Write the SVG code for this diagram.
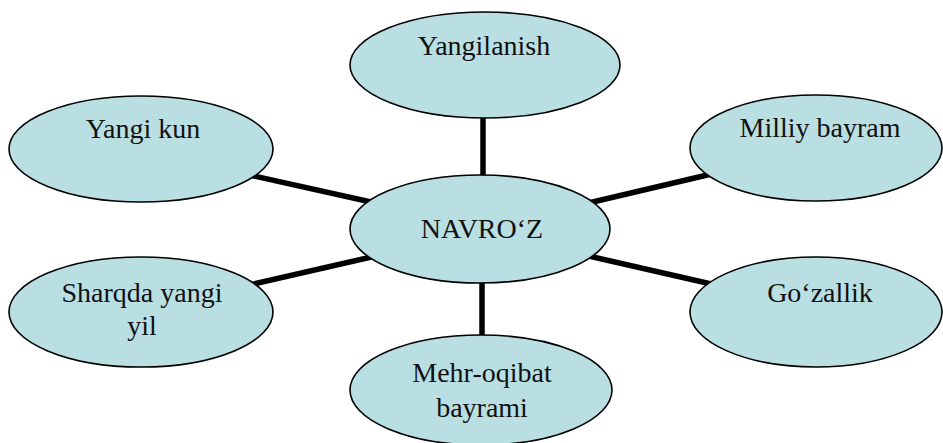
<svg xmlns="http://www.w3.org/2000/svg" width="943" height="443" viewBox="0 0 943 443">
<style>
.node ellipse{fill:#b9dfe3;stroke:#000;stroke-width:1.6}
.node text{font-family:'Liberation Serif','Times New Roman',Times,'DejaVu Serif',serif;font-size:28px;fill:#111;text-anchor:middle}
.conn line{stroke:#000;stroke-width:5.5;stroke-linecap:butt}
</style>
<rect width="943" height="443" fill="#fff"/>
<g id="connectors" class="conn">
<line x1="483" y1="110" x2="483" y2="185"/>
<line x1="482" y1="275" x2="482" y2="345"/>
<line x1="245" y1="174" x2="380" y2="204"/>
<line x1="245" y1="286" x2="380" y2="255"/>
<line x1="580" y1="205" x2="720" y2="172"/>
<line x1="580" y1="254" x2="720" y2="286"/>
</g>
<g id="n-yangilanish" class="node">
<ellipse cx="485" cy="65" rx="135" ry="53"/>
<text x="484" y="55" font-family="Liberation Serif, serif">Yangilanish</text>
</g>
<g id="n-navroz" class="node">
<ellipse cx="480" cy="229" rx="130" ry="54"/>
<text x="482" y="238" font-family="Liberation Serif, serif">NAVRO‘Z</text>
</g>
<g id="n-yangikun" class="node">
<ellipse cx="141" cy="149" rx="132" ry="53"/>
<text x="143" y="138" font-family="Liberation Serif, serif">Yangi kun</text>
</g>
<g id="n-sharqda" class="node">
<ellipse cx="141" cy="312" rx="132" ry="55"/>
<text x="142" y="302" font-family="Liberation Serif, serif">Sharqda yangi</text>
<text x="142" y="335" font-family="Liberation Serif, serif">yil</text>
</g>
<g id="n-milliy" class="node">
<ellipse cx="816" cy="148" rx="126" ry="53"/>
<text x="820" y="137" font-family="Liberation Serif, serif">Milliy bayram</text>
</g>
<g id="n-gozallik" class="node">
<ellipse cx="816" cy="312" rx="126" ry="55"/>
<text x="820" y="302" font-family="Liberation Serif, serif">Go‘zallik</text>
</g>
<g id="n-mehr" class="node">
<ellipse cx="481" cy="390" rx="131" ry="55"/>
<text x="482" y="382" font-family="Liberation Serif, serif">Mehr-oqibat</text>
<text x="482" y="417" font-family="Liberation Serif, serif">bayrami</text>
</g>
</svg>
